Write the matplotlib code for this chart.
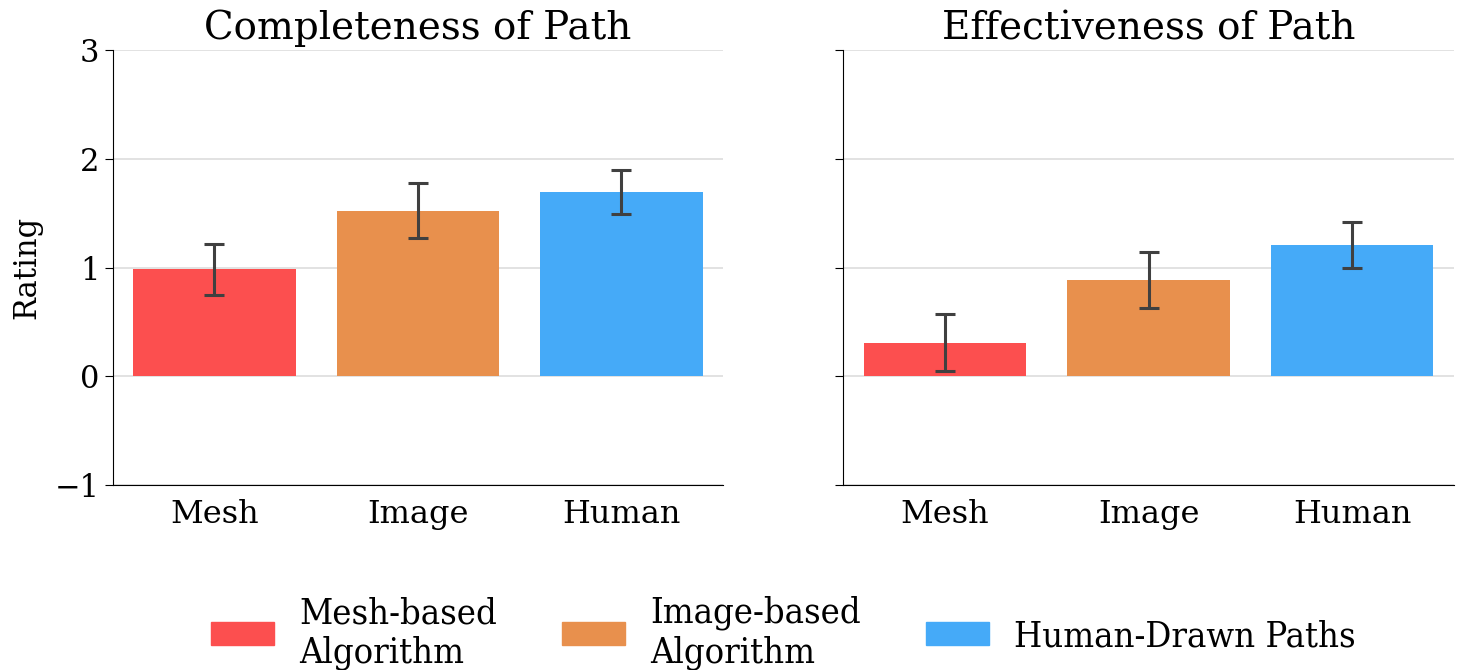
import matplotlib
matplotlib.use("Agg")
import matplotlib.pyplot as plt
import numpy as np
from matplotlib.patches import Patch

plt.rcParams['font.family'] = ['DejaVu Serif']

categories = ["Mesh", "Image", "Human"]
legend_labels = ["Mesh-based\nAlgorithm", "Image-based\nAlgorithm", "Human-Drawn Paths"]
colors = ["#FC4F4F", "#E8904D", "#45AAF8"]

completeness_mean = [0.985, 1.525, 1.695]
completeness_err = [0.235, 0.255, 0.2]
effectiveness_mean = [0.31, 0.885, 1.21]
effectiveness_err = [0.26, 0.26, 0.21]

titles = ["Completeness of Path", "Effectiveness of Path"]

fig = plt.figure(figsize=(14.64, 6.7), dpi=100)
ax1 = fig.add_axes([0.077, 0.276, 0.417, 0.649])
ax2 = fig.add_axes([0.576, 0.276, 0.417, 0.649], sharey=ax1)

x = np.arange(len(categories))
for ax, mean, err, title in zip([ax1, ax2], [completeness_mean, effectiveness_mean],
                                [completeness_err, effectiveness_err], titles):
    ax.bar(x, mean, width=0.8, color=colors, zorder=2)
    ax.errorbar(x, mean, yerr=err, fmt='none', ecolor='#404040', elinewidth=2.2,
                capsize=7, capthick=2.2, zorder=3)
    ax.set_xticks(x)
    ax.set_xticklabels(categories, fontsize=23)
    ax.set_xlim(-0.5, 2.5)
    ax.set_ylim(-1, 3)
    ax.set_yticks([-1, 0, 1, 2, 3])
    ax.yaxis.grid(True, color='#dddddd', linewidth=1.2, zorder=0)
    ax.set_axisbelow(True)
    ax.spines['top'].set_visible(False)
    ax.spines['right'].set_visible(False)
    ax.tick_params(axis='y', labelsize=22, length=6)
    ax.tick_params(axis='x', length=0, pad=10)
    ax.set_title(title, fontsize=28, pad=8)

ax1.set_ylabel("Rating", fontsize=22, labelpad=9)
ax2.tick_params(axis='y', labelleft=False)

handles = [Patch(color=c) for c in colors]
fig.legend(handles, legend_labels, loc='center', bbox_to_anchor=(0.535, 0.055), ncol=3,
           frameon=False, handlelength=1.75, handleheight=0.6, handletextpad=0.7,
           columnspacing=1.8,
           prop={'family': 'DejaVu Serif', 'stretch': 'condensed', 'size': 26})

fig.savefig("out.png", dpi=100)
